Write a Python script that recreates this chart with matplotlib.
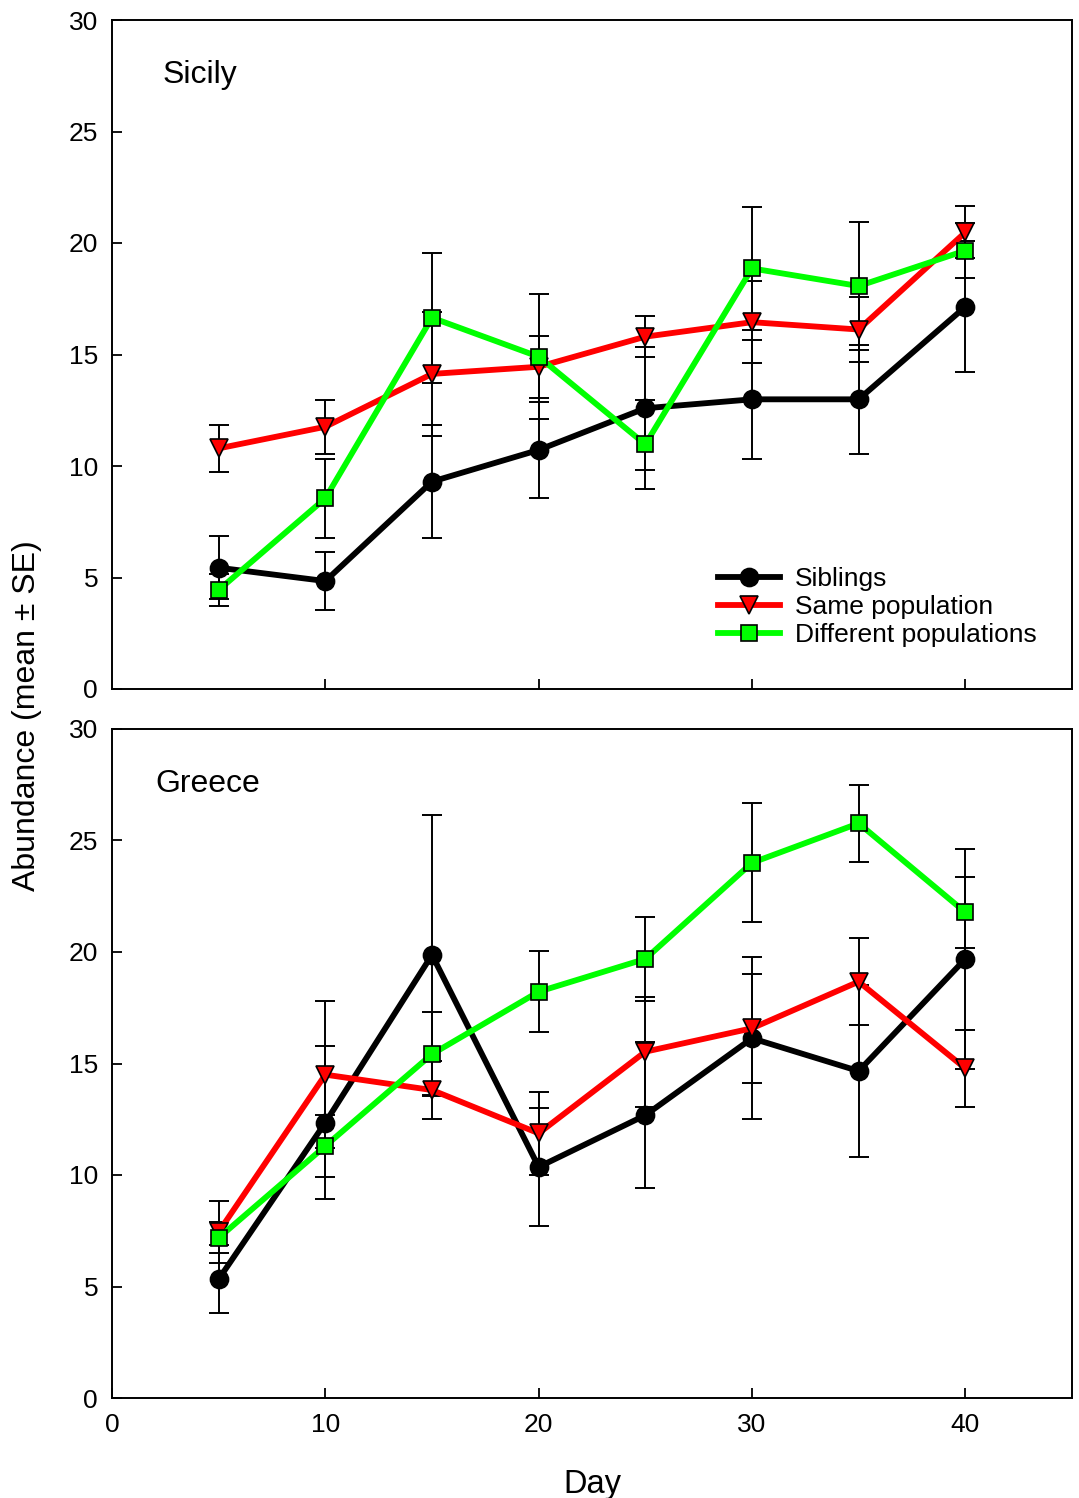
import matplotlib
matplotlib.use("Agg")
import matplotlib.pyplot as plt
from matplotlib.ticker import MultipleLocator

plt.rcParams['font.family'] = ['Liberation Sans', 'DejaVu Sans']

days = [5, 10, 15, 20, 25, 30, 35, 40]
series_names = ["Siblings", "Same population", "Different populations"]

# Sicily
sic_sib = [5.44, 4.84, 9.30, 10.72, 12.59, 12.99, 12.99, 17.14]
sic_sib_se = [1.42, 1.30, 2.55, 2.17, 2.76, 2.68, 2.45, 2.94]
sic_same = [10.79, 11.76, 14.13, 14.45, 15.80, 16.45, 16.12, 20.48]
sic_same_se = [1.06, 1.20, 2.77, 1.38, 0.93, 1.84, 1.44, 1.17]
sic_diff = [4.44, 8.55, 16.65, 14.90, 10.97, 18.86, 18.07, 19.66]
sic_diff_se = [0.70, 1.76, 2.92, 2.80, 2.01, 2.74, 2.86, 1.22]

# Greece
gre_sib = [5.33, 12.35, 19.87, 10.36, 12.68, 16.13, 14.66, 19.69]
gre_sib_se = [1.53, 3.42, 6.28, 2.66, 3.27, 3.64, 3.84, 4.95]
gre_same = [7.45, 14.50, 13.81, 11.87, 15.53, 16.58, 18.67, 14.78]
gre_same_se = [1.40, 3.30, 1.28, 1.86, 2.47, 2.45, 1.96, 1.73]
gre_diff = [7.18, 11.30, 15.42, 18.22, 19.69, 24.00, 25.77, 21.78]
gre_diff_se = [0.70, 1.38, 1.88, 1.81, 1.90, 2.67, 1.72, 1.59]

colors = ["#000000", "#FF0000", "#00FF00"]
markers = ["o", "v", "s"]
msizes = [13, 13, 11]

W, H = 1079, 1498
fig = plt.figure(figsize=(W / 100, H / 100), dpi=100)

def axrect(x0, y0, x1, y1):
    return [x0 / W, 1 - y1 / H, (x1 - x0) / W, (y1 - y0) / H]

ax1 = fig.add_axes(axrect(112, 20, 1072, 689))
ax2 = fig.add_axes(axrect(112, 729, 1072, 1398))

panels = [
    (ax1, "Sicily", 2.35, [(sic_sib, sic_sib_se), (sic_same, sic_same_se), (sic_diff, sic_diff_se)]),
    (ax2, "Greece", 2.05, [(gre_sib, gre_sib_se), (gre_same, gre_same_se), (gre_diff, gre_diff_se)]),
]

for ax, title, tx, data in panels:
    for i, (vals, se) in enumerate(data):
        ax.errorbar(days, vals, yerr=se, fmt="none", ecolor="black",
                    elinewidth=1.4, capsize=7.5, capthick=1.4, zorder=2)
    for i, (vals, se) in enumerate(data):
        ax.plot(days, vals, color=colors[i], lw=4.2, marker=markers[i],
                markersize=msizes[i], markerfacecolor=colors[i],
                markeredgecolor="black", markeredgewidth=1.2,
                label=series_names[i], zorder=3 + i)
    ax.set_xlim(0, 45)
    ax.set_ylim(0, 30)
    ax.xaxis.set_major_locator(MultipleLocator(10))
    ax.yaxis.set_major_locator(MultipleLocator(5))
    ax.tick_params(direction="in", length=7, width=1.3, labelsize=19, pad=10)
    ax.tick_params(axis="x", pad=11, top=False)
    ax.tick_params(axis="y", right=False)
    for sp in ax.spines.values():
        sp.set_linewidth(1.4)
    ax.text(tx, 27.55, title, fontsize=23, ha="left", va="center")

ax1.tick_params(axis="x", labelbottom=False)
ax1.set_xticks([10, 20, 30, 40])

leg = ax1.legend(loc="lower left", bbox_to_anchor=(0.631, 0.063), frameon=False,
                 fontsize=19, handlelength=2.35, handletextpad=0.57,
                 labelspacing=0.14, borderpad=0, borderaxespad=0)

ax2.set_xlabel("Day", fontsize=23.5, labelpad=23)
fig.text(27 / W, 1 - 716 / H, "Abundance (mean \u00b1 SE)", rotation=90,
         fontsize=23, ha="center", va="center")

fig.savefig("out.png", dpi=100)
